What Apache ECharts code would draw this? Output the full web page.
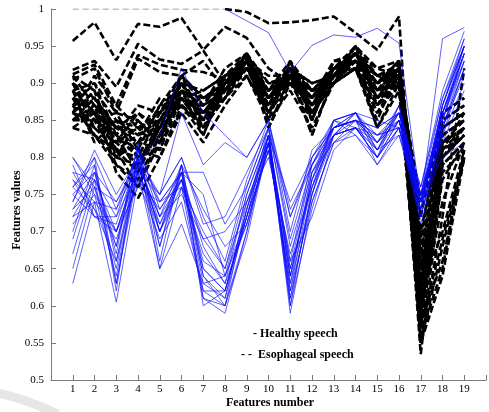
<!DOCTYPE html>
<html>
<head>
<meta charset="utf-8">
<script src="https://cdn.jsdelivr.net/npm/echarts@6/dist/echarts.min.js"></script>
<style>
  html, body { margin: 0; padding: 0; background: #fff; }
  #chart { width: 489px; height: 412px; }
</style>
</head>
<body>
<div id="chart"></div>
<script>
// Feature indices on the x axis
const features = [1,2,3,4,5,6,7,8,9,10,11,12,13,14,15,16,17,18,19];
const xTickLabels = ['1','2','3','4','5','6','7','8','9','10','11','12','13','14','15','16','17','18','19'];
const yTickLabels = ['0.5','0.55','0.6','0.65','0.7','0.75','0.8','0.85','0.9','0.95','1'];

// Healthy speech: one row of 19 feature values per speaker
const healthy01 = [0.80,0.75,0.70,0.79,0.72,0.77,0.65,0.62,0.72,0.83,0.64,0.78,0.84,0.85,0.82,0.86,0.74,0.86,0.95];
const healthy02 = [0.78,0.73,0.66,0.80,0.70,0.78,0.63,0.61,0.74,0.82,0.62,0.77,0.83,0.84,0.81,0.85,0.73,0.85,0.94];
const healthy03 = [0.76,0.79,0.62,0.81,0.68,0.79,0.64,0.60,0.73,0.84,0.60,0.76,0.85,0.86,0.80,0.87,0.75,0.88,0.96];
const healthy04 = [0.74,0.80,0.63,0.78,0.65,0.76,0.61,0.59,0.70,0.83,0.59,0.74,0.82,0.85,0.79,0.84,0.72,0.84,0.93];
const healthy05 = [0.63,0.74,0.605,0.77,0.69,0.74,0.62,0.62,0.72,0.81,0.63,0.75,0.83,0.84,0.83,0.86,0.74,0.87,0.95];
const healthy06 = [0.65,0.76,0.65,0.80,0.71,0.77,0.66,0.64,0.75,0.83,0.65,0.79,0.84,0.86,0.82,0.85,0.75,0.86,0.94];
const healthy07 = [0.69,0.78,0.67,0.82,0.73,0.78,0.68,0.63,0.71,0.82,0.66,0.80,0.85,0.83,0.80,0.84,0.73,0.83,0.92];
const healthy08 = [0.72,0.77,0.70,0.79,0.74,0.76,0.70,0.65,0.76,0.84,0.68,0.78,0.82,0.84,0.81,0.83,0.74,0.85,0.93];
const healthy09 = [0.75,0.72,0.72,0.78,0.75,0.80,0.72,0.66,0.77,0.85,0.70,0.81,0.84,0.85,0.84,0.86,0.76,0.88,0.95];
const healthy10 = [0.77,0.74,0.73,0.81,0.72,0.75,0.69,0.70,0.74,0.80,0.67,0.76,0.83,0.86,0.82,0.87,0.75,0.84,0.91];
const healthy11 = [0.73,0.76,0.68,0.82,0.66,0.79,0.65,0.62,0.73,0.82,0.61,0.75,0.84,0.85,0.83,0.84,0.74,0.87,0.96];
const healthy12 = [0.79,0.72,0.71,0.80,0.70,0.76,0.67,0.63,0.75,0.83,0.64,0.77,0.85,0.84,0.80,0.85,0.73,0.86,0.94];
const healthy13 = [0.71,0.75,0.64,0.79,0.68,0.78,0.64,0.61,0.72,0.81,0.63,0.78,0.83,0.86,0.81,0.86,0.74,0.85,0.95];
const healthy14 = [0.76,0.73,0.69,0.77,0.73,0.77,0.62,0.60,0.70,0.82,0.62,0.74,0.82,0.83,0.79,0.83,0.72,0.83,0.90];
const healthy15 = [0.74,0.81,0.75,0.80,0.75,0.80,0.71,0.72,0.78,0.84,0.72,0.79,0.85,0.86,0.83,0.85,0.76,0.89,0.97];
const healthy16 = [0.78,0.77,0.72,0.81,0.74,0.78,0.75,0.64,0.72,0.83,0.74,0.80,0.84,0.85,0.84,0.86,0.75,0.86,0.93];
const healthy17 = [0.70,0.79,0.66,0.78,0.70,0.77,0.69,0.65,0.74,0.82,0.65,0.76,0.83,0.84,0.80,0.84,0.71,0.82,0.89];
const healthy18 = [0.75,0.78,0.74,0.80,0.65,0.71,0.63,0.64,0.71,0.81,0.64,0.77,0.84,0.85,0.82,0.85,0.74,0.85,0.94];
const healthy19 = [0.67,0.77,0.63,0.79,0.72,0.79,0.60,0.62,0.73,0.83,0.61,0.75,0.85,0.86,0.81,0.87,0.73,0.87,0.95];
const healthy20 = [0.72,0.74,0.70,0.76,0.74,0.78,0.78,0.71,0.76,0.84,0.69,0.79,0.83,0.84,0.82,0.86,0.75,0.86,0.94];
const healthy21 = [0.76,0.80,0.73,0.79,0.75,0.86,0.79,0.82,0.80,0.85,0.72,0.80,0.84,0.86,0.85,0.84,0.74,0.80,0.82];
const healthy22 = [1.00,1.00,1.00,1.00,1.00,1.00,1.00,1.00,0.984,0.968,0.915,0.951,0.965,0.962,0.974,0.954,0.74,0.96,0.975];
const healthy23 = [0.80,0.76,0.74,0.79,0.83,0.92,0.86,0.83,0.80,0.85,0.73,0.79,0.84,0.85,0.83,0.84,0.74,0.84,0.92];
const healthy24 = [0.73,0.78,0.68,0.80,0.70,0.79,0.73,0.68,0.71,0.82,0.66,0.72,0.81,0.84,0.80,0.85,0.72,0.84,0.92];
const healthy25 = [0.77,0.72,0.70,0.78,0.71,0.78,0.61,0.60,0.69,0.82,0.60,0.73,0.83,0.85,0.81,0.86,0.74,0.87,0.95];

// Esophageal speech: one row of 19 feature values per speaker
const esoph01 = [1.00,1.00,1.00,1.00,1.00,1.00,1.00,1.00,0.996,0.981,0.982,0.985,0.990,0.968,0.945,0.990,0.55,0.72,0.92];
const esoph02 = [0.957,0.982,0.931,0.980,0.976,0.988,0.945,0.976,0.961,0.92,0.90,0.89,0.91,0.93,0.90,0.92,0.60,0.80,0.84];
const esoph03 = [0.918,0.930,0.895,0.953,0.932,0.926,0.944,0.90,0.92,0.87,0.91,0.89,0.90,0.95,0.92,0.91,0.58,0.82,0.85];
const esoph04 = [0.912,0.925,0.87,0.938,0.925,0.918,0.915,0.905,0.93,0.88,0.92,0.90,0.91,0.94,0.89,0.90,0.62,0.81,0.86];
const esoph05 = [0.905,0.92,0.86,0.933,0.915,0.91,0.93,0.89,0.935,0.86,0.915,0.88,0.92,0.93,0.91,0.925,0.57,0.80,0.83];
const esoph06 = [0.90,0.88,0.84,0.86,0.83,0.90,0.86,0.90,0.93,0.88,0.92,0.87,0.91,0.94,0.90,0.92,0.64,0.84,0.86];
const esoph07 = [0.88,0.86,0.82,0.84,0.85,0.89,0.85,0.89,0.92,0.86,0.91,0.88,0.90,0.93,0.88,0.91,0.60,0.83,0.85];
const esoph08 = [0.86,0.85,0.80,0.82,0.81,0.88,0.84,0.88,0.94,0.84,0.90,0.85,0.92,0.92,0.86,0.90,0.56,0.79,0.82];
const esoph09 = [0.85,0.87,0.78,0.745,0.80,0.87,0.83,0.90,0.93,0.87,0.92,0.83,0.91,0.95,0.89,0.93,0.535,0.78,0.81];
const esoph10 = [0.91,0.89,0.85,0.80,0.86,0.91,0.87,0.91,0.92,0.89,0.93,0.89,0.92,0.94,0.91,0.92,0.66,0.85,0.87];
const esoph11 = [0.84,0.83,0.81,0.76,0.82,0.86,0.82,0.87,0.91,0.85,0.89,0.84,0.90,0.93,0.84,0.89,0.58,0.66,0.80];
const esoph12 = [0.87,0.90,0.83,0.78,0.84,0.90,0.86,0.89,0.94,0.90,0.91,0.86,0.90,0.92,0.87,0.91,0.62,0.70,0.81];
const esoph13 = [0.89,0.86,0.79,0.77,0.83,0.89,0.88,0.90,0.93,0.86,0.92,0.90,0.91,0.93,0.90,0.93,0.70,0.84,0.86];
const esoph14 = [0.86,0.84,0.82,0.79,0.85,0.88,0.84,0.91,0.92,0.88,0.90,0.87,0.92,0.94,0.88,0.92,0.72,0.86,0.88];
const esoph15 = [0.90,0.85,0.86,0.81,0.87,0.91,0.85,0.88,0.93,0.91,0.91,0.88,0.91,0.95,0.91,0.90,0.63,0.82,0.84];
const esoph16 = [0.85,0.88,0.84,0.83,0.84,0.87,0.87,0.89,0.92,0.87,0.92,0.85,0.93,0.93,0.89,0.91,0.59,0.74,0.82];
const esoph17 = [0.88,0.83,0.80,0.85,0.82,0.89,0.83,0.90,0.94,0.85,0.93,0.86,0.90,0.92,0.85,0.92,0.55,0.64,0.80];
const esoph18 = [0.91,0.87,0.83,0.87,0.86,0.90,0.89,0.91,0.93,0.89,0.91,0.89,0.92,0.94,0.92,0.93,0.68,0.83,0.85];
const esoph19 = [0.84,0.86,0.81,0.80,0.83,0.88,0.86,0.88,0.92,0.88,0.90,0.88,0.91,0.93,0.90,0.91,0.61,0.81,0.84];
const esoph20 = [0.89,0.82,0.85,0.83,0.88,0.87,0.85,0.90,0.91,0.86,0.92,0.87,0.91,0.92,0.88,0.90,0.65,0.80,0.83];
const esoph21 = [0.87,0.88,0.82,0.86,0.84,0.91,0.88,0.89,0.93,0.90,0.90,0.88,0.92,0.94,0.89,0.92,0.57,0.69,0.80];
const esoph22 = [0.86,0.91,0.87,0.84,0.86,0.89,0.87,0.92,0.94,0.88,0.91,0.86,0.90,0.93,0.86,0.91,0.74,0.85,0.87];
const esoph23 = [0.90,0.84,0.81,0.78,0.85,0.90,0.84,0.89,0.92,0.87,0.93,0.85,0.92,0.95,0.87,0.92,0.62,0.79,0.82];
const esoph24 = [0.85,0.85,0.83,0.81,0.80,0.86,0.86,0.88,0.93,0.89,0.91,0.87,0.91,0.93,0.90,0.93,0.66,0.84,0.86];
const esoph25 = [0.88,0.87,0.84,0.82,0.87,0.88,0.89,0.91,0.94,0.88,0.92,0.89,0.90,0.94,0.91,0.91,0.60,0.82,0.84];
const esoph26 = [0.86,0.89,0.80,0.79,0.84,0.89,0.85,0.90,0.93,0.84,0.91,0.83,0.91,0.92,0.84,0.90,0.56,0.65,0.81];
const esoph27 = [0.89,0.90,0.86,0.85,0.82,0.91,0.88,0.90,0.92,0.89,0.92,0.88,0.93,0.94,0.90,0.92,0.69,0.86,0.88];
const esoph28 = [0.87,0.83,0.79,0.76,0.83,0.88,0.86,0.90,0.92,0.87,0.91,0.86,0.91,0.93,0.88,0.92,0.64,0.80,0.83];
const esoph29 = [0.85,0.86,0.83,0.80,0.86,0.87,0.84,0.88,0.91,0.86,0.90,0.87,0.90,0.92,0.87,0.90,0.63,0.81,0.83];
const esoph30 = [0.88,0.84,0.85,0.84,0.81,0.89,0.87,0.89,0.92,0.88,0.91,0.86,0.92,0.93,0.89,0.92,0.59,0.77,0.82];
const esoph31 = [0.86,0.89,0.81,0.83,0.85,0.90,0.85,0.91,0.93,0.87,0.92,0.89,0.91,0.94,0.88,0.91,0.67,0.83,0.85];
const esoph32 = [0.90,0.86,0.84,0.82,0.84,0.87,0.88,0.90,0.94,0.89,0.90,0.87,0.92,0.93,0.90,0.93,0.55,0.68,0.80];

const healthyRows = [healthy01,healthy02,healthy03,healthy04,healthy05,healthy06,healthy07,healthy08,healthy09,healthy10,
  healthy11,healthy12,healthy13,healthy14,healthy15,healthy16,healthy17,healthy18,healthy19,healthy20,
  healthy21,healthy22,healthy23,healthy24,healthy25];
const esophRows = [esoph01,esoph02,esoph03,esoph04,esoph05,esoph06,esoph07,esoph08,esoph09,esoph10,
  esoph11,esoph12,esoph13,esoph14,esoph15,esoph16,esoph17,esoph18,esoph19,esoph20,
  esoph21,esoph22,esoph23,esoph24,esoph25,esoph26,esoph27,esoph28,esoph29,esoph30,esoph31,esoph32];

const SERIF = '"Liberation Serif", "DejaVu Serif", serif';
const TOP = 1.0;

// Split a row into runs: stretches pinned to the top of the axis are drawn
// as a hairline (half of the stroke falls outside the plot), the rest normally.
function runs(row) {
  const out = [];
  let cur = null, pinned = null;
  row.forEach((v, i) => {
    const p = v >= TOP;
    if (cur === null || p !== pinned) {
      const start = cur ? [cur[cur.length - 1]] : [];
      if (cur) out.push({ pinned, pts: cur });
      cur = start;
      pinned = p;
    }
    cur.push([features[i], v]);
  });
  if (cur) out.push({ pinned, pts: cur });
  return out;
}

const series = [];
function addRows(rows, label, style, z) {
  rows.forEach((row, k) => {
    runs(row).forEach((r, j) => {
      series.push({
        name: label + ' ' + (k + 1) + '.' + j,
        type: 'line',
        data: r.pts,
        showSymbol: false,
        symbol: 'none',
        silent: true,
        z: r.pinned ? z - 1 : z,
        lineStyle: r.pinned ? style.pinned : style.normal
      });
    });
  });
}

addRows(esophRows, 'Esophageal speech', {
  normal: { color: '#000', width: 2.6, type: [7, 3] },
  pinned: { color: '#8a8a8a', width: 1.2, type: [6, 4] }
}, 2);
addRows(healthyRows, 'Healthy speech', {
  normal: { color: 'rgba(10,10,255,0.72)', width: 0.9 },
  pinned: { color: 'rgba(150,150,220,0.35)', width: 0.5 }
}, 3);

const chart = echarts.init(document.getElementById('chart'), null, { renderer: 'canvas' });
chart.setOption({
  animation: false,
  backgroundColor: '#fff',
  grid: { left: 51, top: 9, width: 440, height: 371, containLabel: false },
  xAxis: {
    type: 'value',
    min: 0, max: 20, interval: 1,
    axisLine: { show: true, lineStyle: { color: '#7a7a7a', width: 1 } },
    axisTick: { show: true, inside: true, length: 5, lineStyle: { color: '#7a7a7a' } },
    splitLine: { show: false },
    axisLabel: {
      margin: 4,
      color: '#000',
      fontFamily: SERIF,
      fontSize: 11,
      formatter: v => (v >= 1 && v <= xTickLabels.length) ? xTickLabels[v - 1] : ''
    }
  },
  yAxis: {
    type: 'value',
    min: 0.5, max: 1, interval: 0.05,
    axisLine: { show: true, lineStyle: { color: '#7a7a7a', width: 1 } },
    axisTick: { show: true, inside: true, length: 5, lineStyle: { color: '#7a7a7a' } },
    splitLine: { show: false },
    axisLabel: {
      margin: 7,
      color: '#000',
      fontFamily: SERIF,
      fontSize: 11,
      formatter: v => yTickLabels[Math.round((v - 0.5) / 0.05)] || ''
    }
  },
  series: series,
  graphic: [
    {
      type: 'bezierCurve',
      silent: true,
      z: 0,
      shape: { x1: -2, y1: 393, cpx1: 25, cpy1: 399, x2: 58, y2: 414 },
      style: { stroke: '#e6e6e6', lineWidth: 9, fill: null }
    },
    {
      type: 'text',
      x: 17, y: 210,
      rotation: Math.PI / 2,
      style: {
        text: 'Features values',
        font: 'bold 12px ' + SERIF,
        fill: '#000',
        align: 'center',
        verticalAlign: 'middle'
      }
    },
    {
      type: 'text',
      x: 270, y: 403,
      style: {
        text: 'Features number',
        font: 'bold 12px ' + SERIF,
        fill: '#000',
        align: 'center',
        verticalAlign: 'middle'
      }
    },
    {
      type: 'text',
      x: 253, y: 334,
      z: 10,
      style: {
        text: '- Healthy speech',
        font: 'bold 12px ' + SERIF,
        fill: '#000',
        align: 'left',
        verticalAlign: 'middle'
      }
    },
    {
      type: 'text',
      x: 241, y: 355,
      z: 10,
      style: {
        text: '- -  Esophageal speech',
        font: 'bold 12px ' + SERIF,
        fill: '#000',
        align: 'left',
        verticalAlign: 'middle'
      }
    }
  ]
});
</script>
</body>
</html>
